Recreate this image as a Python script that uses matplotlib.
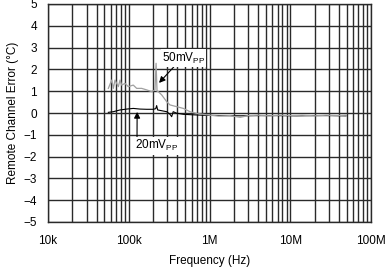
"""Remote channel error vs. noise frequency."""

import matplotlib

matplotlib.use("Agg")
import matplotlib.pyplot as plt
from matplotlib.ticker import FixedLocator, LogLocator, NullFormatter

plt.rcParams["font.family"] = ["Liberation Sans", "DejaVu Sans"]
plt.rcParams["mathtext.fontset"] = "custom"
plt.rcParams["mathtext.rm"] = "Liberation Sans"

# 50 mVpp injected noise (gray trace)
freq_50 = [
    55.9e3, 61.5e3, 64.4e3, 67.6e3, 74.3e3, 78.0e3, 81.7e3, 89.9e3, 98.7e3,
    113.8e3, 125.3e3, 144.5e3, 166.6e3, 192.2e3, 211.2e3, 218.0e3, 224.0e3,
    232.5e3, 255.7e3, 294.9e3, 324.3e3, 392.5e3, 474.7e3, 573.4e3, 693e3,
    837e3, 1.0e6, 1.3e6, 1.8e6, 2.4e6, 3.0e6, 4.0e6, 5.5e6, 7.5e6, 10e6,
    14e6, 20e6, 28e6, 38e6, 49e6,
]
err_50 = [
    1.13, 1.51, 1.13, 1.51, 1.21, 1.51, 1.28, 1.36, 1.21,
    1.28, 1.13, 1.13, 1.06, 0.98, 1.06, 2.28, 1.00,
    0.98, 0.83, 0.52, 0.37, 0.29, 0.21, 0.06, -0.02,
    -0.06, -0.10, -0.14, -0.12, -0.20, -0.12, -0.10, -0.13, -0.10, -0.12,
    -0.10, -0.13, -0.10, -0.12, -0.10,
]

# 20 mVpp injected noise (black trace)
freq_20 = [
    55.9e3, 64.4e3, 78.0e3, 94.2e3, 113.8e3, 137.7e3, 166.6e3, 201e3,
    216e3, 221.6e3, 228e3, 294.9e3, 324.3e3, 340e3, 355e3, 392.5e3,
    474.7e3, 600e3, 800e3, 1.0e6, 1.5e6, 2.4e6, 4.0e6, 7.0e6, 12e6,
    20e6, 32e6, 49e6,
]
err_20 = [
    0.03, 0.06, 0.14, 0.18, 0.21, 0.18, 0.17, 0.17,
    0.20, 0.34, 0.14, 0.06, -0.06, -0.17, 0.06, -0.01,
    -0.06, -0.08, -0.10, -0.11, -0.12, -0.13, -0.12, -0.12, -0.13,
    -0.12, -0.12, -0.13,
]

x_ticks = [1e4, 1e5, 1e6, 1e7, 1e8]
x_labels = ["10k", "100k", "1M", "10M", "100M"]
y_ticks = list(range(-5, 6))
y_labels = [str(v).replace("-", "\u2212") for v in y_ticks]

fig = plt.figure(figsize=(3.85, 2.67), dpi=100)
ax = fig.add_axes([48 / 385, 45 / 267, 323 / 385, 218 / 267])

ax.plot(freq_20, err_20, color="black", linewidth=0.8, zorder=3)
ax.plot(freq_50, err_50, color="#a0a0a0", linewidth=0.9, zorder=4)

ax.set_xscale("log")
ax.set_xlim(1e4, 1e8)
ax.set_ylim(-5, 5)
ax.xaxis.set_major_locator(FixedLocator(x_ticks))
ax.set_xticklabels(x_labels)
ax.xaxis.set_minor_locator(LogLocator(base=10, subs=range(2, 10)))
ax.xaxis.set_minor_formatter(NullFormatter())
ax.set_yticks(y_ticks)
ax.set_yticklabels(y_labels)

ax.grid(which="both", color="#2a2a2a", linewidth=1.0)
ax.tick_params(which="both", length=0, labelsize=8.5)
ax.tick_params(axis="x", pad=9)
ax.tick_params(axis="y", pad=8)
for spine in ax.spines.values():
    spine.set_color("#2a2a2a")
    spine.set_linewidth(1.0)

ax.set_xlabel("Frequency (Hz)", fontsize=8.5, labelpad=6)
ax.set_ylabel("Remote Channel Error (\u00b0C)", fontsize=8.5, labelpad=3)

ax.annotate(
    r"50mV$_{\mathrm{PP}}$", xy=(237e3, 1.38), xytext=(258e3, 2.52),
    fontsize=8.5, ha="left", va="center",
    bbox=dict(boxstyle="square,pad=0.1", fc="white", ec="none"),
    arrowprops=dict(arrowstyle="-|>", color="black", lw=0.8,
                    mutation_scale=9, shrinkA=0, shrinkB=0,
                    relpos=(0.3, 0.0)),
    zorder=6,
)
ax.annotate(
    r"20mV$_{\mathrm{PP}}$", xy=(127e3, 0.05), xytext=(119e3, -1.51),
    fontsize=8.5, ha="left", va="center",
    bbox=dict(boxstyle="square,pad=0.1", fc="white", ec="none"),
    arrowprops=dict(arrowstyle="-|>", color="black", lw=0.8,
                    mutation_scale=9, shrinkA=0, shrinkB=0,
                    relpos=(0.05, 1.0)),
    zorder=6,
)

fig.savefig("out.png", dpi=100)
